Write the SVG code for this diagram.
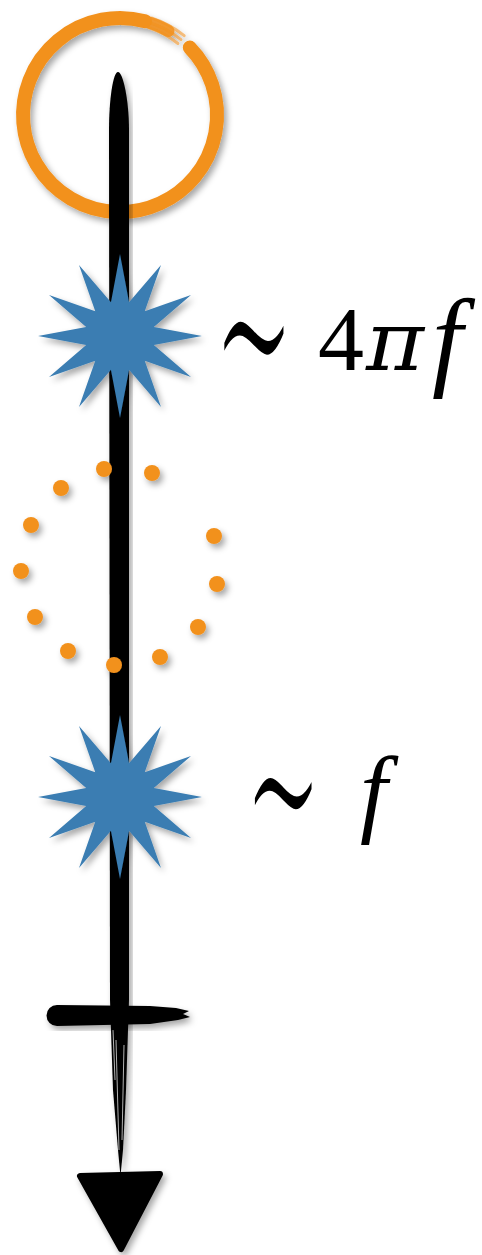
<svg xmlns="http://www.w3.org/2000/svg" width="482" height="1255" viewBox="0 0 482 1255">
<style>
.ink{fill:#000}
.ring{fill:none;stroke:#f2911d;stroke-linecap:round}
.star{fill:#3a7db2}
.dot{fill:#f2911d}
.lbl{font-family:"Liberation Serif","DejaVu Serif",serif;fill:#000}
.op{font-family:"DejaVu Serif","Liberation Serif",serif;fill:#000;stroke:#fff;stroke-width:3.5}
.gr{font-family:"DejaVu Serif","Liberation Serif",serif;fill:#000;font-style:italic}
</style>
<defs>
<filter id="sh" x="-20%" y="-20%" width="140%" height="140%">
<feDropShadow dx="3" dy="4" stdDeviation="3" flood-color="#000" flood-opacity="0.35"/>
</filter>
<polygon id="starShape" points="0,-82 9.06,-33.81 41,-71 24.75,-24.75 71,-41 33.81,-9.06 82,0 33.81,9.06 71,41 24.75,24.75 41,71 9.06,33.81 0,82 -9.06,33.81 -41,71 -24.75,24.75 -71,41 -33.81,9.06 -82,0 -33.81,-9.06 -71,-41 -24.75,-24.75 -41,-71 -9.06,-33.81"/>
</defs>
<rect width="482" height="1255" fill="#fff"/>
<g id="circle" filter="url(#sh)">
<path class="ring" stroke-width="14" d="M189.8,47.6 A97,97 0 1 1 145.1,21.3"/>
<path class="ring" stroke-width="12" stroke-linecap="butt" opacity="0.9" d="M140.2,20.1 A97,97 0 0 1 168.5,31"/>
<g class="ring" stroke-width="3" stroke-linecap="butt" opacity="0.55">
<path d="M148.4,27.5 A92,92 0 0 1 177.9,43.5"/>
<path d="M150,22.7 A97,97 0 0 1 181,39.6"/>
<path d="M151.5,18 A102,102 0 0 1 184.2,35.7"/>
</g>
</g>
<g id="connectors">
<path id="axis" class="ink" filter="url(#sh)" d="M118,72 C113,72 109,100 109,130 L110,1000 L111,1030 L113,1090 L118,1150 L120.5,1176 L123,1150 L126,1090 L128,1030 L129,1000 L129,130 C129,100 123,72 118,72 Z"/>
<g stroke="#fff" stroke-width="1" opacity="0.7">
<line x1="116" y1="1040" x2="119" y2="1150"/>
<line x1="124" y1="1045" x2="122" y2="1140"/>
<line x1="113" y1="1030" x2="115" y2="1080"/>
</g>
<path id="arrowhead" class="ink" stroke="#000" stroke-width="6" stroke-linejoin="round" filter="url(#sh)" d="M80,1176 L160,1174 L121,1249 Z"/>
</g>
<g id="star1" filter="url(#sh)">
<use href="#starShape" class="star" x="120" y="336"/>
</g>
<g id="label1">
<text class="op" transform="translate(212,426) scale(1,2.8)" font-size="100">∼</text>
<text class="lbl" x="318" y="370" font-size="92">4</text>
<text class="gr" x="366" y="370" font-size="82" textLength="58" lengthAdjust="spacingAndGlyphs">π</text>
<text class="lbl" x="432" y="376" font-size="110" font-style="italic">f</text>
</g>
<g id="dots" filter="url(#sh)">
<circle class="dot" cx="104" cy="469" r="8"/>
<circle class="dot" cx="152" cy="473" r="8"/>
<circle class="dot" cx="61" cy="488" r="8"/>
<circle class="dot" cx="31" cy="525" r="8"/>
<circle class="dot" cx="214" cy="536" r="8"/>
<circle class="dot" cx="21" cy="571" r="8"/>
<circle class="dot" cx="217" cy="584" r="8"/>
<circle class="dot" cx="35" cy="617" r="8"/>
<circle class="dot" cx="198" cy="627" r="8"/>
<circle class="dot" cx="68" cy="651" r="8"/>
<circle class="dot" cx="160" cy="657" r="8"/>
<circle class="dot" cx="114" cy="665" r="8"/>
</g>
<g id="star2" filter="url(#sh)">
<use href="#starShape" class="star" x="120" y="797"/>
</g>
<g id="label2">
<text class="op" transform="translate(243,878) scale(1,2.8)" font-size="96">∼</text>
<text class="lbl" x="360" y="824" font-size="98" font-style="italic">f</text>
</g>
<g id="crossbar" filter="url(#sh)">
<path class="ink" d="M57,1005 L150,1006 L176,1008 L189,1011 L183,1014 L190,1017 L178,1020 L150,1024 L57,1026 A10.5,10.5 0 0 1 57,1005 Z"/>
</g>
</svg>
